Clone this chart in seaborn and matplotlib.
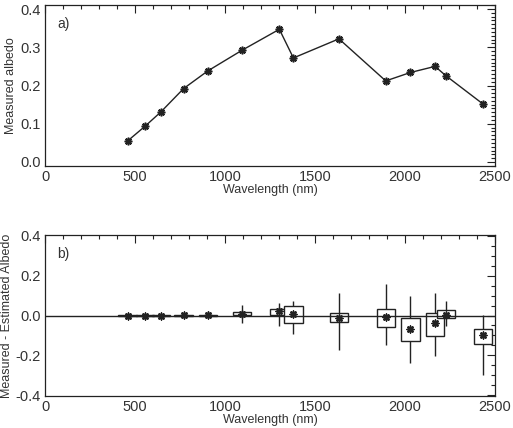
import numpy as np
import pandas as pd
import matplotlib
matplotlib.use("Agg")
import matplotlib.pyplot as plt
import seaborn as sns
from matplotlib.ticker import MultipleLocator

# band centres (nm)
wavelength = [459, 557, 644, 770, 904, 1094, 1302, 1380, 1633, 1893, 2030, 2167, 2226, 2435]
# panel a) measured albedo
albedo = [0.055, 0.094, 0.131, 0.192, 0.238, 0.292, 0.347, 0.272, 0.322, 0.212, 0.234, 0.250, 0.226, 0.151]
# panel b) measured - estimated albedo
resid = [0.000, -0.002, 0.000, 0.001, 0.001, 0.010, 0.025, 0.010, -0.012, -0.007, -0.068, -0.040, 0.002, -0.098]
box_hi = [0.002, 0.001, 0.002, 0.003, 0.003, 0.018, 0.035, 0.046, 0.012, 0.035, -0.012, 0.015, 0.030, -0.066]
box_lo = [-0.002, -0.004, -0.002, -0.002, -0.002, 0.002, 0.002, -0.038, -0.035, -0.058, -0.128, -0.101, -0.013, -0.141]
whisk_hi = [0.005, 0.004, 0.004, 0.010, 0.022, 0.055, 0.063, 0.073, 0.113, 0.159, 0.098, 0.111, 0.075, 0.005]
whisk_lo = [-0.005, -0.006, -0.004, -0.010, -0.012, -0.037, -0.053, -0.095, -0.174, -0.148, -0.239, -0.204, -0.053, -0.300]

df = pd.DataFrame({"wl": wavelength, "albedo": albedo, "resid": resid,
                   "blo": box_lo, "bhi": box_hi, "wlo": whisk_lo, "whi": whisk_hi})

sns.set_style("white")
plt.rcParams['font.family'] = ['Liberation Sans', 'DejaVu Sans']
ink = "#222222"
txt = "#333333"

fig = plt.figure(figsize=(5.13, 4.28), dpi=100)
ax1 = fig.add_axes([45/513, 1-166/428, 450/513, 161/428])
ax2 = fig.add_axes([45/513, 1-396/428, 450/513, 161/428])

# a) measured albedo
sns.lineplot(data=df, x="wl", y="albedo", ax=ax1, color=ink, linewidth=1.0,
             marker=(8, 2, 0), markersize=5.5, markeredgewidth=1.2,
             markeredgecolor=ink)
ax1.set_ylim(-0.0105, 0.4105)
ax1.yaxis.set_major_locator(MultipleLocator(0.1))
ax1.yaxis.set_minor_locator(MultipleLocator(0.01))
ax1.set_ylabel("Measured albedo")
ax1.yaxis.set_label_coords(-0.062, 0.5)
ax1.text(0.027, 0.86, "a)", transform=ax1.transAxes, fontsize=10, color=txt)

# b) residuals
for i, r in df.iterrows():
    z = 2 + i * 0.1
    ax2.vlines(r.wl, r.wlo, r.whi, color=ink, linewidth=1.0, zorder=z)
    ax2.bar(r.wl, r.bhi - r.blo, bottom=r.blo, width=102, facecolor="white",
            edgecolor=ink, linewidth=1.0, zorder=z + 0.01)
ax2.axhline(0, color=ink, linewidth=1.0, zorder=5)
sns.scatterplot(data=df, x="wl", y="resid", ax=ax2, color=ink, marker=(8, 2, 0),
                s=22, linewidth=1.2, edgecolor=ink, zorder=6)
ax2.set_ylim(-0.405, 0.405)
ax2.yaxis.set_major_locator(MultipleLocator(0.2))
ax2.yaxis.set_minor_locator(MultipleLocator(0.05))
ax2.set_ylabel("Measured - Estimated Albedo")
ax2.yaxis.set_label_coords(-0.071, 0.5)
ax2.text(0.027, 0.86, "b)", transform=ax2.transAxes, fontsize=10, color=txt)

for ax in (ax1, ax2):
    ax.set_xlim(0, 2500)
    ax.xaxis.set_major_locator(MultipleLocator(500))
    ax.xaxis.set_minor_locator(MultipleLocator(100))
    ax.set_xlabel("Wavelength (nm)", fontsize=9, color=txt, labelpad=0)
    ax.yaxis.label.set_size(9)
    ax.yaxis.label.set_color(txt)
    ax.tick_params(which="both", direction="in", top=True, right=True,
                   color=ink, labelsize=10.5, labelcolor=txt)
    ax.tick_params(axis="x", which="both", pad=3)
    ax.tick_params(axis="y", which="both", pad=3)
    ax.tick_params(which="major", length=6, width=0.8)
    ax.tick_params(which="minor", length=3, width=0.8)
    ax.yaxis.set_major_formatter(matplotlib.ticker.FormatStrFormatter("%.1f"))
    for s in ax.spines.values():
        s.set_color(ink)
        s.set_linewidth(0.9)

fig.savefig("out.png", dpi=100)
